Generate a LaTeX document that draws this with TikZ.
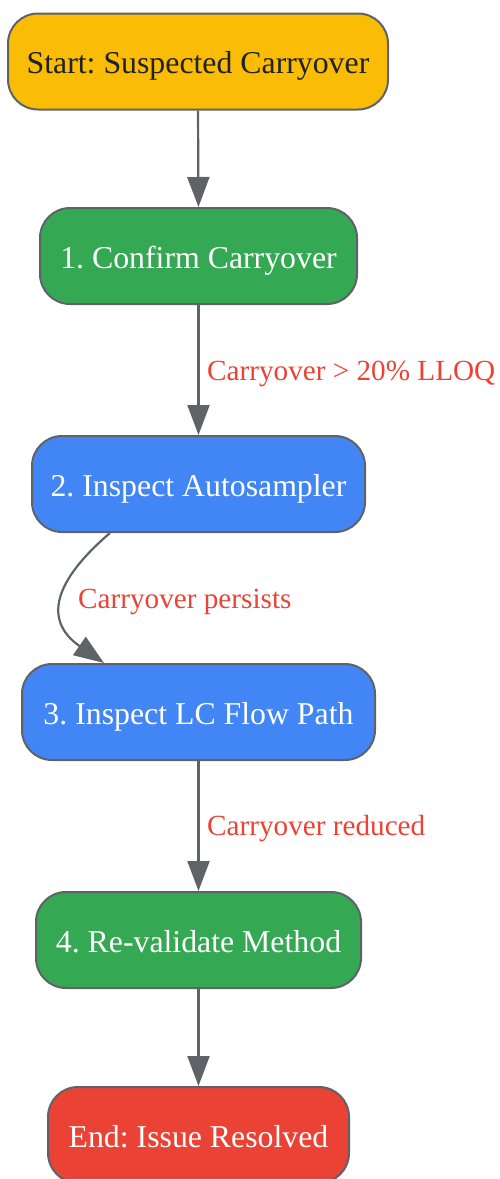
\documentclass[tikz,border=0pt]{standalone}
\usepackage{fontspec}
\setmainfont{Liberation Serif}
\frenchspacing
\usetikzlibrary{arrows.meta}
\definecolor{edgegray}{HTML}{5F6368}
\definecolor{gyellow}{HTML}{FBBC05}
\definecolor{ggreen}{HTML}{34A853}
\definecolor{gblue}{HTML}{4285F4}
\definecolor{gred}{HTML}{EA4335}
\definecolor{darktext}{HTML}{202124}
\begin{document}
\begin{tikzpicture}[x=1pt,y=-1pt,
  box/.style={draw=edgegray, line width=2pt, rounded corners=30pt, minimum height=96pt, inner sep=0pt, text height=24pt, text depth=0pt, font=\frenchspacing\fontsize{31.8}{38}\selectfont, text=white},
  conn/.style={draw=edgegray, line width=2.2pt, -{Triangle[length=30pt,width=22pt]}},
  elabel/.style={text=gred, font=\frenchspacing\fontsize{29.2}{34}\selectfont, anchor=base west, inner sep=0pt}
]
\useasboundingbox (0,0) rectangle (500,1179);
\node[box, fill=gyellow, text=darktext, minimum width=380pt] (start) at (198,61.5) {Start: Suspected Carryover};
\node[box, fill=ggreen, minimum width=317pt] (n1) at (198.5,256) {1. Confirm Carryover};
\node[box, fill=gblue, minimum width=333pt] (n2) at (198.5,484) {2. Inspect Autosampler};
\node[box, fill=gblue, minimum width=353pt] (n3) at (198.5,712) {3. Inspect LC Flow Path};
\node[box, fill=ggreen, minimum width=325pt] (n4) at (198.5,940) {4. Re-validate Method};
\node[box, fill=gred, minimum width=301pt] (end) at (198.5,1135) {End: Issue Resolved};

\draw[conn] (start.south) -- (n1.north);
\draw[conn] (n1.south) -- (n2.north);
\draw[conn] (n2.south -| 110,0) .. controls (55,580) and (42,620) .. (n3.north -| 104,0);
\draw[conn] (n3.south) -- (n4.north);
\draw[conn] (n4.south) -- (end.north);

\node[elabel] (l1) at (207,380) {Carryover > 20\% LLOQ};
\node[elabel] (l2) at (78,608) {Carryover persists};
\node[elabel] (l3) at (207,835) {Carryover reduced};
\end{tikzpicture}
\end{document}
